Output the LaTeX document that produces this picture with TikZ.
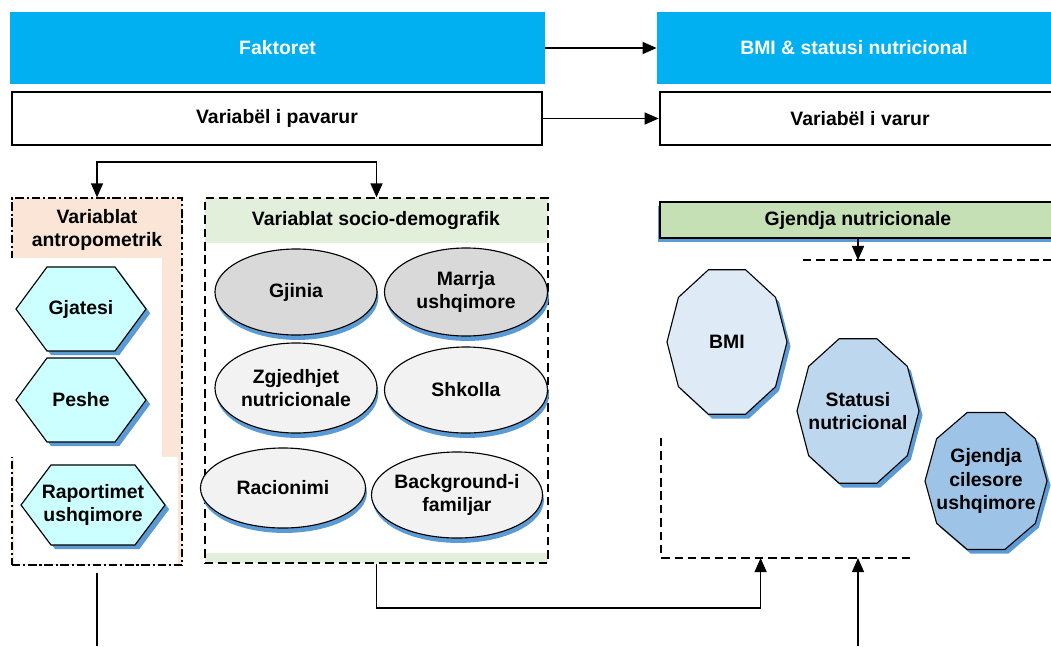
\documentclass[tikz,border=0pt]{standalone}
\usepackage{fontspec}
\setmainfont{Liberation Sans}
\usetikzlibrary{arrows.meta,shapes.geometric,shadows,calc}

\definecolor{topblue}{HTML}{00B0F0}
\definecolor{peach}{HTML}{FBE5D6}
\definecolor{sgreen}{HTML}{E2EFDA}
\definecolor{hgreen}{HTML}{C5E0B4}
\definecolor{hexcyan}{HTML}{CCFFFF}
\definecolor{gray1}{HTML}{D9D9D9}
\definecolor{gray2}{HTML}{F2F2F2}
\definecolor{shblue}{HTML}{5B9BD5}
\definecolor{deca1}{HTML}{DEEBF7}
\definecolor{deca2}{HTML}{BDD7EE}
\definecolor{deca3}{HTML}{9DC3E6}

\tikzset{
  lbl/.style={font=\bfseries\fontsize{13.8}{16.5}\selectfont, align=center, inner sep=0pt},
  topbox/.style={lbl, fill=topblue, text=white, minimum height=1.8cm},
  varbox/.style={lbl, draw, line width=1.8pt, minimum height=1.325cm},
  arr/.style={-{Triangle[width=8.5pt,length=10pt]}, line width=1.2pt},
  arr2/.style={{Triangle[width=8.5pt,length=10pt]}-{Triangle[width=8.5pt,length=10pt]}, line width=1.2pt},
  ell/.style={lbl, ellipse, draw, thick, inner xsep=-10pt, inner ysep=-4pt,
    drop shadow={fill=shblue, opacity=1, shadow xshift=1pt, shadow yshift=-3.5pt}},
  dashline/.style={dash pattern=on 6pt off 3.5pt, line width=0.9pt}
}

% hexagon: name, x, y, half width, half height, inset, text
\newcommand{\hexa}[7]{%
  \begin{scope}[shift={(#2,#3)}]
    \fill[shblue, xshift=3pt, yshift=-3pt] (-#4,0) -- (-#4+#6,-#5) -- (#4-#6,-#5) -- (#4,0) -- (#4-#6,#5) -- (-#4+#6,#5) -- cycle;
    \filldraw[fill=hexcyan, thick] (-#4,0) -- (-#4+#6,-#5) -- (#4-#6,-#5) -- (#4,0) -- (#4-#6,#5) -- (-#4+#6,#5) -- cycle;
    \node[lbl] (#1) at (0,0) {#7};
  \end{scope}}

% decagon: name, x, y, x radius, y radius, colour, text
\newcommand{\deca}[7]{%
  \begin{scope}[shift={(#2,#3)}]
    \fill[shblue, xshift=2.5pt, yshift=-3pt] (0:#4 and #5) \foreach \k in {1,...,9}{ -- (36*\k:#4 and #5)} -- cycle;
    \filldraw[fill=#6, thick] (0:#4 and #5) \foreach \k in {1,...,9}{ -- (36*\k:#4 and #5)} -- cycle;
    \node[lbl] (#1) at (0,0) {#7};
  \end{scope}}

\begin{document}
\begin{tikzpicture}[x=0.025cm, y=-0.025cm]
  \useasboundingbox (0,0) rectangle (1051,646);

  % top rows
  \node[topbox, minimum width=13.375cm] (fak) at (277.5,48) {Faktoret};
  \node[topbox, minimum width=9.85cm] (bmis) at (854,48) {BMI \& statusi nutricional};
  \node[varbox, minimum width=13.25cm] (pav) at (277,118.5) {Variabël i pavarur};
  \node[varbox, minimum width=10cm] (var) at (860,118.5) {Variabël i varur};

  \draw[arr] (fak) -- (bmis);
  \draw[arr] (pav) -- (var);

  % antropometrik
  \node[fill=peach, draw, dash pattern=on 6pt off 2pt on 1.5pt off 2pt, thick, minimum width=4.25cm, minimum height=9.175cm] (antro) at (97,381.5) {};
  \fill[white] (10,258) rectangle (162,457);
  \fill[white] (14,457) rectangle (178,564);
  \node[lbl] (antrot) at (97,230) {Variablat\\antropometrik};

  \hexa{gja}{81}{309}{65}{42}{31}{Gjatesi}
  \hexa{pes}{81}{400}{65}{42}{31}{Peshe}
  \hexa{rap}{93}{505}{72}{40}{30}{Raportimet\\ushqimore}

  % socio-demografik
  \fill[sgreen] (205,198) rectangle (548,243);
  \fill[sgreen] (205,553) rectangle (548,563);
  \node[draw, dash pattern=on 6pt off 3.5pt, thick, minimum width=8.575cm, minimum height=9.125cm] (socio) at (376.5,380.5) {};
  \node[lbl] (sociot) at (376,221) {Variablat socio-demografik};

  \node[ell, fill=gray1, minimum width=4.05cm, minimum height=2.15cm] (gji) at (296,292) {Gjinia};
  \node[ell, fill=gray1, minimum width=4.075cm, minimum height=2.2cm] (mar) at (466,292) {Marrja\\ushqimore};
  \node[ell, fill=gray2, minimum width=4.05cm, minimum height=2.25cm] (zgj) at (296,388) {Zgjedhjet\\nutricionale};
  \node[ell, fill=gray2, minimum width=4.075cm, minimum height=2.15cm] (shk) at (466,390) {Shkolla};
  \node[ell, fill=gray2, minimum width=4.125cm, minimum height=2cm] (rac) at (283,488) {Racionimi};
  \node[ell, fill=gray2, minimum width=4.275cm, minimum height=2.15cm] (bck) at (457,495) {Background-i\\familjar};

  \coordinate (brT) at (236,162);
  \draw[arr2] (antro.north) |- (brT) -| (socio.north);

  % gjendja nutricionale
  \node[lbl, draw, thick, fill=hgreen, minimum width=9.9cm, minimum height=0.9cm,
        drop shadow={fill=shblue, opacity=1, shadow xshift=-1.5pt, shadow yshift=-2.5pt}] (gjn) at (858,220) {Gjendja nutricionale};
  \coordinate (dr1) at (803,260);
  \coordinate (dr2) at (1051,260);
  \draw[dashline] (dr1) -- (dr2);
  \draw[arr] (gjn.south) -- (gjn.south |- dr1);

  \deca{bmi}{727}{342}{60}{76}{deca1}{BMI}
  \deca{stat}{858}{411}{61}{76}{deca2}{Statusi\\nutricional}
  \deca{gjc}{986}{481}{61}{72}{deca3}{Gjendja\\cilesore\\ushqimore}

  \coordinate (fr1) at (661,438);
  \coordinate (fr2) at (661,558);
  \coordinate (fr3) at (910,558);
  \draw[dashline] (fr1) -- (fr2) -- (fr3);

  % bottom connectors
  \coordinate (brB) at (560,608);
  \draw[arr] (socio.south) |- (brB) -| ($(fr2)!0.4!(fr3)$);
  \coordinate (botR) at (858,646);
  \draw[arr] (botR) -- (botR |- fr2);
  \coordinate (botL) at (97,646);
  \draw[line width=1.2pt] ($(antro.south)+(0,7)$) -- (botL);
\end{tikzpicture}
\end{document}
